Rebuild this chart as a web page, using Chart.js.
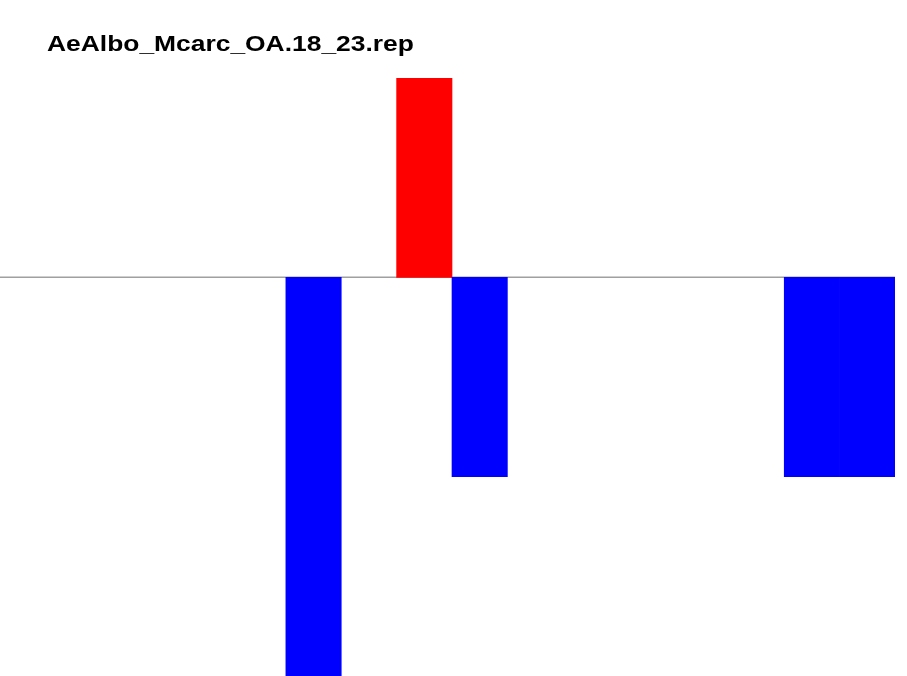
<!DOCTYPE html>
<html>
<head>
<meta charset="utf-8">
<script src="https://cdn.jsdelivr.net/npm/chart.js@4"></script>
<style>
  html, body { margin: 0; padding: 0; background: #fff; }
  #wrap { width: 907px; height: 676px; position: relative; }
</style>
</head>
<body>
<div id="wrap"><canvas id="repChart"></canvas></div>
<script>
const chartTitle = "AeAlbo_Mcarc_OA.18_23.rep"
const positions = ["1","2","3","4","5","6","7","8","9","10","11","12","13","14","15","16"]
const scores = [0, 0, 0, 0, 0, -2, 0, 1, -1, 0, 0, 0, 0, 0, -1, -1]
const yMin = -2
const yMax = 1

const upColor = "#ff0000"
const downColor = "#0000ff"
const noColor = "rgba(0,0,0,0)"
const baseColor = "#a0a0a0"

// zero line across the whole width, under the bars
const baseline = {
    id: 'baseline',
    beforeDatasetsDraw(chart) {
        const ctx = chart.ctx
        const y = chart.scales.y.getPixelForValue(0)
        ctx.save()
        ctx.strokeStyle = baseColor
        ctx.lineWidth = 1.5
        ctx.beginPath()
        ctx.moveTo(0, y)
        ctx.lineTo(chart.chartArea.right, y)
        ctx.stroke()
        ctx.restore()
    }
}

// title in the top left corner (the source looks stretched sideways)
const titleText = {
    id: 'titleText',
    afterDraw(chart) {
        const ctx = chart.ctx
        ctx.save()
        ctx.fillStyle = "#000"
        ctx.font = "bold 22px 'Liberation Sans', Arial, sans-serif"
        ctx.textBaseline = 'alphabetic'
        ctx.translate(47, 51)
        ctx.scale(1.2, 1)
        ctx.fillText(chartTitle, 0, 0)
        ctx.restore()
    }
}

const repChart = new Chart(document.getElementById("repChart"), {
    type: 'bar',
    data: {
        labels: positions,
        datasets: [{
            data: scores,
            backgroundColor: scores.map(v => v > 0 ? upColor : (v < 0 ? downColor : noColor)),
            borderWidth: 0,
            barPercentage: 1.0,
            categoryPercentage: 1.0
        }]
    },
    options: {
        responsive: true,
        maintainAspectRatio: false,
        animation: false,
        layout: { padding: { left: 9, right: 12, top: 78, bottom: 0 } },
        plugins: {
            legend: { display: false },
            tooltip: { enabled: false },
            title: { display: false }
        },
        scales: {
            x: { display: false },
            y: { display: false, min: yMin, max: yMax }
        }
    },
    plugins: [baseline, titleText]
})
</script>
</body>
</html>
